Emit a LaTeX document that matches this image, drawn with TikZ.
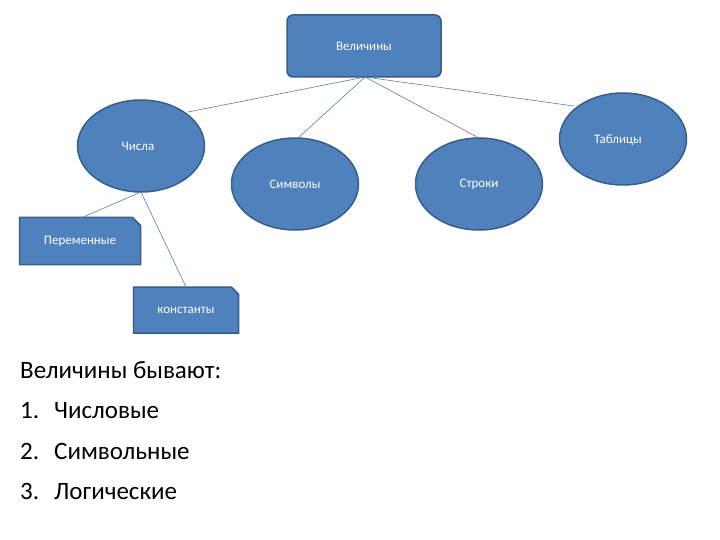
\documentclass[tikz,border=0pt]{standalone}
\usepackage{fontspec}
\setmainfont{Carlito}
\usetikzlibrary{shapes.misc,shapes.geometric}
\definecolor{fillb}{HTML}{4F81BD}
\definecolor{edgeb}{HTML}{385D8A}
\begin{document}
\begin{tikzpicture}[x=1pt,y=-1pt,
  blob/.style={ellipse,draw=edgeb,line width=1.5pt,fill=fillb,text=white,font=\fontsize{13}{15}\selectfont,minimum width=127pt,minimum height=92pt,inner sep=0pt},
  sbox/.style={chamfered rectangle,chamfered rectangle corners=north east,chamfered rectangle xsep=4pt,chamfered rectangle ysep=4pt,draw=edgeb,line width=1.5pt,fill=fillb,text=white,font=\fontsize{13}{15}\selectfont,inner sep=0pt},
  link/.style={draw=edgeb!80,line width=0.6pt}]
\useasboundingbox (0,0) rectangle (720,540);
\node[draw=edgeb,line width=1.5pt,fill=fillb,rounded corners=6pt,text=white,font=\fontsize{13}{15}\selectfont,minimum width=154pt,minimum height=62pt] (top) at (364,46) {Величины};
\node[blob] (num) at (141,146) {};
\node[text=white,font=\fontsize{13}{15}\selectfont] (numl) at (138,146) {Числа};
\node[blob] (sym) at (295,184) {Символы};
\node[blob] (str) at (479,184) {Строки};
\node[blob] (tab) at (623,139) {};
\node[text=white,font=\fontsize{13}{15}\selectfont] (tabl) at (618,140) {Таблицы};
\node[sbox,minimum width=121pt,minimum height=47pt] (var) at (80,241) {Переменные};
\node[sbox,minimum width=105pt,minimum height=46pt] (con) at (186,310) {константы};
\coordinate (tb) at (365,77);
\coordinate (nb) at (141,192);
\draw[link] (tb) -- (188,112);
\draw[link] (tb) -- (298,138);
\draw[link] (tb) -- (479,138);
\draw[link] (tb) -- (574,106);
\draw[link] (nb) -- (81,218);
\draw[link] (nb) -- (186,287);
\node[anchor=north west,align=left,font=\fontsize{25}{40.5}\selectfont,inner sep=0pt] (list) at (20,361) {Величины бывают:\\1.\hspace{0.6em}Числовые\\2.\hspace{0.6em}Символьные\\3.\hspace{0.6em}Логические};
\end{tikzpicture}
\end{document}
